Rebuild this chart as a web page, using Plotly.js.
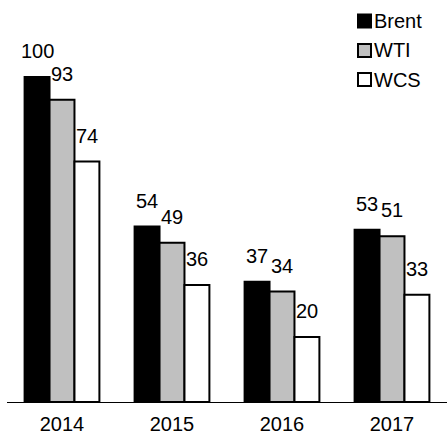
<!DOCTYPE html>
<html>
<head>
<meta charset="utf-8">
<script src="https://cdn.plot.ly/plotly-3.0.1.min.js"></script>
<style>html,body{margin:0;padding:0;background:#fff}#chart{width:447px;height:435px}</style>
</head>
<body>
<div id="chart"></div>
<script>
const years = ['2014', '2015', '2016', '2017'];
const seriesNames = ['Brent', 'WTI', 'WCS'];
const brent = [100, 54, 37, 53];
const wti = [93, 49, 34, 51];
const wcs = [74, 36, 20, 33];
const colors = ['#000000', '#c0c0c0', '#ffffff'];

const FONT = 'Liberation Sans, Arial, sans-serif';
const allVals = [brent, wti, wcs];

const data = allVals.map((vals, i) => ({
  type: 'bar', name: seriesNames[i], x: years, y: vals,
  marker: {color: colors[i], line: {color: '#000', width: 2}},
  hoverinfo: 'none', showlegend: false
}));

// geometry (px) of plot area
const W = 447, H = 435, ML = 7, MR = 0, MT = 12, MB = 33;
const PW = W - ML - MR, PH = H - MT - MB;
const BARGAP = 0.32;
const barW = (PW / years.length) * (1 - BARGAP) / 3;

const annotations = [];
allVals.forEach((vals, i) => {
  vals.forEach((v, j) => {
    annotations.push({
      x: j, y: v, xref: 'x', yref: 'y',
      text: String(v), showarrow: false,
      xanchor: 'center', yanchor: 'bottom',
      xshift: (i - 1) * barW, yshift: 13,
      font: {size: 20, family: FONT, color: '#000'}
    });
  });
});

// custom legend (pixel positions -> paper coords)
const px2x = px => (px - ML) / PW;
const py2y = py => (MT + PH - py) / PH;
const legendRows = [21, 50.5, 79.5];
const shapes = [];
seriesNames.forEach((name, i) => {
  const cy = legendRows[i];
  shapes.push({
    type: 'rect', xref: 'paper', yref: 'paper',
    x0: px2x(358), x1: px2x(371), y0: py2y(cy + 6.5), y1: py2y(cy - 6.5),
    fillcolor: colors[i], line: {color: '#000', width: 2}
  });
  annotations.push({
    xref: 'paper', yref: 'paper', x: px2x(372), y: py2y(cy),
    xanchor: 'left', yanchor: 'middle', text: name, showarrow: false,
    font: {size: 20, family: FONT, color: '#000'}
  });
});

const layout = {
  width: W, height: H,
  margin: {l: ML, r: MR, t: MT, b: MB},
  paper_bgcolor: '#fff', plot_bgcolor: '#fff',
  barmode: 'group', bargap: BARGAP, bargroupgap: 0,
  font: {family: FONT, size: 20, color: '#000'},
  showlegend: false,
  xaxis: {type: 'category', showline: true, linecolor: '#000', linewidth: 1,
          ticks: '', showgrid: false, zeroline: false, tickfont: {size: 20},
          ticklabelstandoff: 4, range: [-0.5, 3.5]},
  yaxis: {range: [0, 120], showticklabels: false, showgrid: false, zeroline: false, showline: false, ticks: ''},
  annotations: annotations,
  shapes: shapes
};

Plotly.newPlot('chart', data, layout, {displayModeBar: false, staticPlot: true});
</script>
</body>
</html>
